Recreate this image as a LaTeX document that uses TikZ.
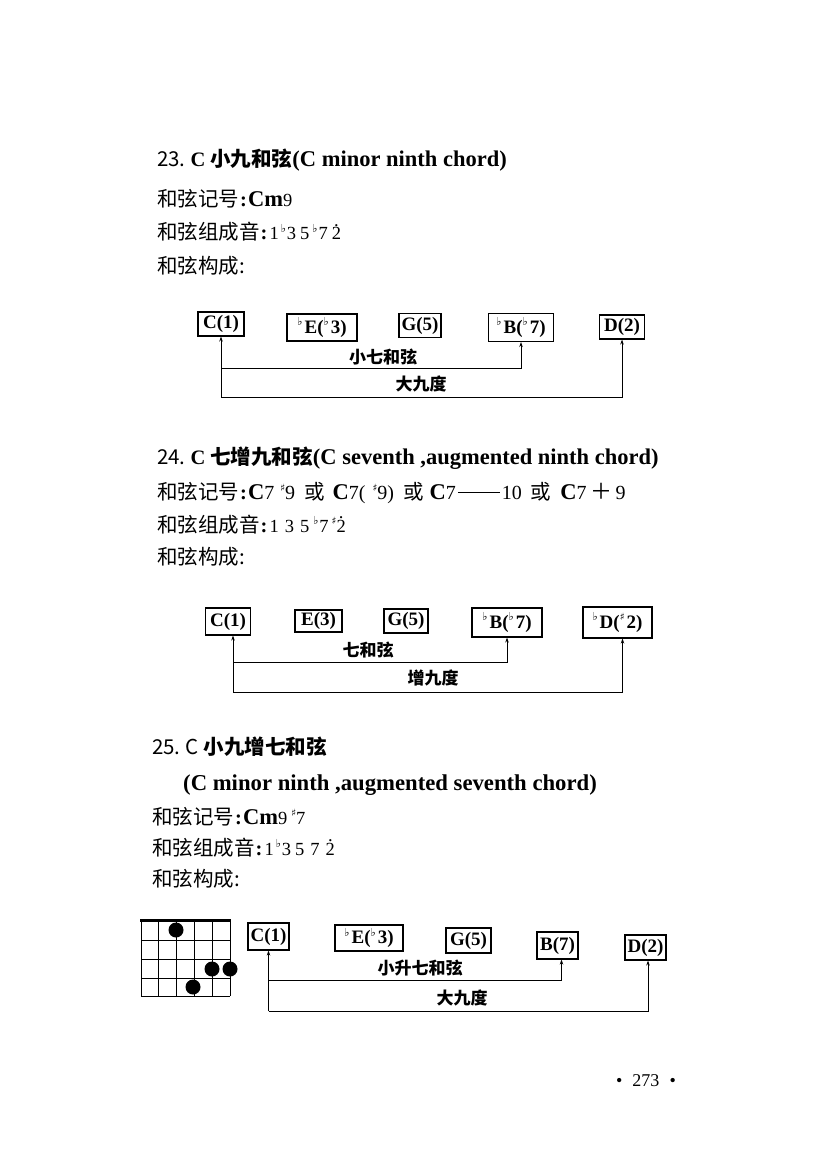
\documentclass[tikz,border=0pt]{standalone}
\usepackage{fontspec}
\setmainfont{Liberation Serif}
\newfontfamily\cjk{Noto Sans CJK SC}
\newfontfamily\sym{DejaVu Sans}
\usetikzlibrary{arrows.meta}
\newcommand\fl{\raisebox{0.38em}{\sym\fontsize{11}{11}\selectfont ♭}}
\newcommand\shp{\raisebox{0.38em}{\sym\fontsize{10}{10}\selectfont ♯}}
\newcommand\hd[1]{\ooalign{#1\cr\hidewidth\raisebox{0.72em}{.}\hidewidth\cr}}
\newcommand\dg{\fontsize{18.5}{20}\selectfont}
\newcommand\dgb{\fontsize{20}{22}\selectfont}
\newcommand\lb{\bfseries\fontsize{22.5}{24}\selectfont}
\newcommand\wdash{\raisebox{0.3em}{\rule{42pt}{1.2pt}}}
\begin{document}
\begin{tikzpicture}[x=1pt,y=-1pt,
  txt/.style={anchor=base west, inner sep=0pt, font=\fontsize{20.5}{24}\selectfont},
  nb/.style={draw, line width=1.1pt, inner xsep=2pt, inner ysep=0pt, minimum height=24pt, font=\bfseries\fontsize{19}{19}\selectfont},
  lab/.style={inner sep=0pt, font=\cjk\bfseries\fontsize{17}{17}\selectfont},
  conn/.style={line width=0.9pt, -{Stealth[length=5pt,width=3.5pt]}},
  grd/.style={line width=0.9pt},
  fing/.style={circle, fill=black, minimum size=15pt, inner sep=0pt}]
\useasboundingbox (0,0) rectangle (824,1174);

% ---------- 23 ----------
\node[txt] (t23) at (157,167) {{\cjk 23.}\hspace{5pt}{\bfseries C}\hspace{5pt}{\cjk\bfseries 小九和弦}{\bfseries\fontsize{22.5}{24}\selectfont (C minor ninth chord)}};
\node[txt] (s23) at (157,207) {{\cjk 和弦记号}\hspace{1pt}\textbf{:}\hspace{1pt}{\lb Cm}{\dg 9}};
\node[txt] (c23) at (157,240) {{\cjk 和弦组成音}\hspace{1pt}\textbf{:}\hspace{2pt}{\dg 1\hspace{2pt}\fl\hspace{1pt}3\hspace{4pt}5\hspace{3pt}\fl\hspace{1pt}7\hspace{4pt}\hd{2}}};
\node[txt] (k23) at (157,273) {{\cjk 和弦构成:}};

\node[nb, minimum width=46pt] (a1) at (221,324) {C(1)};
\node[nb, minimum width=70pt, minimum height=27pt] (a2) at (322,327.5) {\fl\hspace{2pt}E(\fl\hspace{2pt}3)};
\node[nb, minimum width=42pt] (a3) at (420,325.5) {G(5)};
\node[nb, minimum width=65pt, minimum height=28pt] (a4) at (521,327.5) {\fl\hspace{2pt}B(\fl\hspace{2pt}7)};
\node[nb, minimum width=45pt] (a5) at (622,327) {D(2)};
\coordinate (p1) at (a1.south |- 0,368);
\coordinate (p2) at (a1.south |- 0,397);
\draw[conn] (p2) -- (a1.south);
\draw[conn] (p1) -| (a4.south);
\draw[conn] (p2) -| (a5.south);
\node[lab] (l1) at (383,357) {小七和弦};
\node[lab] (l2) at (421,384) {大九度};

% ---------- 24 ----------
\node[txt] (t24) at (157,464) {{\cjk 24.}\hspace{5pt}{\bfseries C}\hspace{5pt}{\cjk\bfseries 七增九和弦}{\bfseries\fontsize{22.5}{24}\selectfont (C seventh ,augmented ninth chord)}};
\node[txt] (s24) at (157,499) {{\cjk 和弦记号}\hspace{1pt}\textbf{:}\hspace{1pt}{\lb C}{\dgb 7}\hspace{6pt}{\shp\dgb 9}\hspace{9pt}{\cjk 或}\hspace{8pt}{\lb C}{\dgb 7(\hspace{7pt}\shp9)}\hspace{9pt}{\cjk 或}\hspace{6pt}{\lb C}{\dgb 7\hspace{2pt}\wdash\hspace{2pt}10}\hspace{9pt}{\cjk 或}\hspace{9pt}{\lb C}{\dgb 7}\hspace{4pt}{\cjk\fontsize{22}{24}\selectfont ＋}\hspace{3pt}{\dgb 9}};
\node[txt] (c24) at (157,532) {{\cjk 和弦组成音}\hspace{1pt}\textbf{:}\hspace{2pt}{\dg 1\hspace{6pt}3\hspace{6pt}5\hspace{4pt}\fl\hspace{1pt}7\hspace{3pt}\shp\hd{2}}};
\node[txt] (k24) at (157,564) {{\cjk 和弦构成:}};

\node[nb, minimum width=45pt, minimum height=27pt] (b1) at (228,621.5) {C(1)};
\node[nb, minimum width=47pt, minimum height=22pt] (b2) at (318.5,621) {E(3)};
\node[nb, minimum width=44pt] (b3) at (406,621) {G(5)};
\node[nb, minimum width=70pt, minimum height=29pt] (b4) at (507,622.5) {\fl\hspace{2pt}B(\fl\hspace{2pt}7)};
\node[nb, minimum width=69pt, minimum height=31pt] (b5) at (617.5,622.5) {\fl\hspace{2pt}D(\shp\hspace{2pt}2)};
\coordinate (q0) at ([xshift=5pt]b1.south);
\coordinate (q1) at (q0 |- 0,662);
\coordinate (q2) at (q0 |- 0,692);
\draw[conn] (q2) -- (q0);
\draw[conn] (q1) -| (b4.south);
\draw[conn] (q2) -| ([xshift=5pt]b5.south);
\node[lab] (m1) at (368,650) {七和弦};
\node[lab] (m2) at (433,678) {增九度};

% ---------- 25 ----------
\node[txt] (t25) at (152,754) {{\cjk 25.}\hspace{5pt}{\cjk C}\hspace{5pt}{\cjk\bfseries 小九增七和弦}};
\node[txt] (u25) at (183,790) {{\bfseries\fontsize{22.7}{24}\selectfont (C minor ninth ,augmented seventh chord)}};
\node[txt] (s25) at (152,824) {{\cjk 和弦记号}\hspace{1pt}\textbf{:}\hspace{1pt}{\lb Cm}{\dg 9\hspace{4pt}\shp7}};
\node[txt] (c25) at (152,855) {{\cjk 和弦组成音}\hspace{1pt}\textbf{:}\hspace{2pt}{\dg 1\hspace{2pt}\fl\hspace{1pt}3\hspace{4pt}5\hspace{6pt}7\hspace{6pt}\hd{2}}};
\node[txt] (k25) at (152,886) {{\cjk 和弦构成:}};

% chord grid
\foreach \i in {0,...,5} \draw[grd] ({141+17.8*\i},920) -- ({141+17.8*\i},996);
\foreach \y in {940,959,978,996} \draw[grd] (141,\y) -- (230,\y);
\draw[line width=3pt] (140,920) -- (231,920);
\node[fing] (f1) at (176,930) {};
\node[fing] (f2) at (212,969) {};
\node[fing] (f3) at (230,969) {};
\node[fing] (f4) at (193,987) {};

\node[nb, minimum width=41pt, minimum height=27pt] (e1) at (268.5,936.5) {C(1)};
\node[nb, minimum width=68pt, minimum height=26pt] (e2) at (369,938) {\fl\hspace{2pt}E(\fl\hspace{2pt}3)};
\node[nb, minimum width=45pt, minimum height=25pt] (e3) at (468.5,940.5) {G(5)};
\node[nb, minimum width=41pt, minimum height=27pt] (e4) at (557.5,945.5) {B(7)};
\node[nb, minimum width=41pt, minimum height=25pt] (e5) at (645.5,947.5) {D(2)};
\coordinate (r1) at (e1.south |- 0,980);
\coordinate (r2) at (e1.south |- 0,1011);
\draw[conn] (r2) -- (e1.south);
\draw[conn] (r1) -| ([xshift=4pt]e4.south);
\draw[conn] (r2) -| ([xshift=2.5pt]e5.south);
\node[lab] (n1) at (420,968) {小升七和弦};
\node[lab] (n2) at (462,998) {大九度};

% page number
\node[inner sep=0pt, font=\fontsize{18}{20}\selectfont] (pg) at (646,1081) {•\hspace{10pt}273\hspace{10pt}•};
\end{tikzpicture}
\end{document}
